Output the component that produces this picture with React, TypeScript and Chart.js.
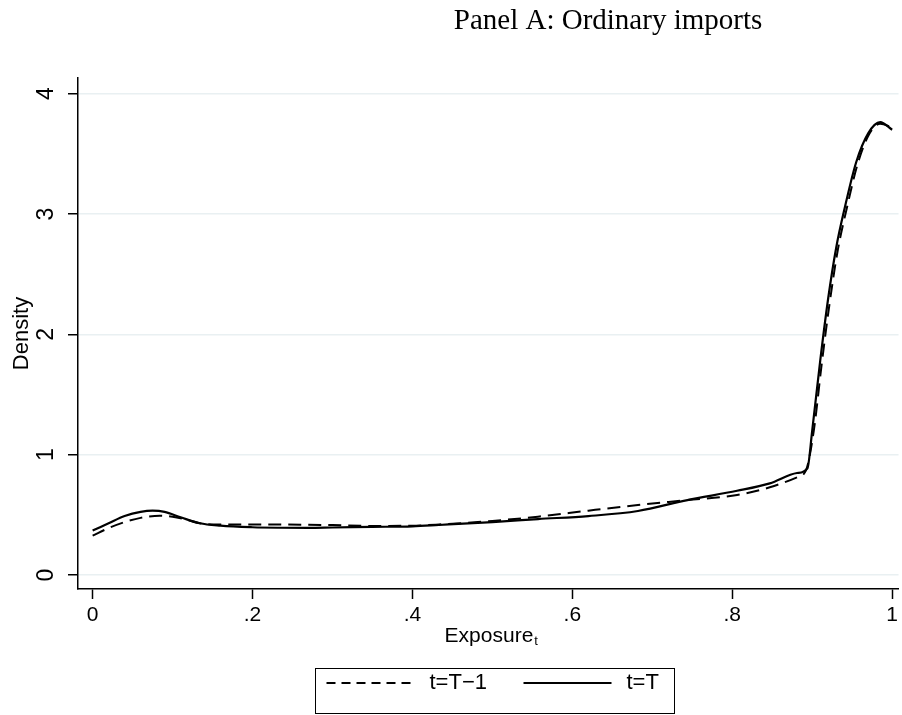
import React, { useEffect, useRef } from 'react';
import { Chart, registerables } from 'chart.js';

Chart.register(...registerables);

const titleText = 'Panel A: Ordinary imports';
const xAxisLabel = 'Exposure';
const xAxisSub = 't';
const yAxisLabel = 'Density';

const xTickValues = [0, 0.2, 0.4, 0.6, 0.8, 1];
const xTickLabels = ['0', '.2', '.4', '.6', '.8', '1'];
const yTickValues = [0, 1, 2, 3, 4];
const yTickLabels = ['0', '1', '2', '3', '4'];

const prevLabel = 't=T\u22121';
const currLabel = 't=T';

// t=T-1 (dashed)
const prevX = [0, 0.02, 0.04, 0.06, 0.084, 0.1, 0.12, 0.134, 0.16, 0.2, 0.233, 0.27, 0.3, 0.35, 0.4, 0.433, 0.5, 0.557, 0.62, 0.682, 0.744, 0.806, 0.847, 0.881, 0.892, 0.902, 0.912, 0.922, 0.932, 0.943, 0.957, 0.971, 0.985, 1.0];
const prevY = [0.327, 0.39, 0.44, 0.475, 0.493, 0.485, 0.455, 0.43, 0.42, 0.42, 0.42, 0.418, 0.415, 0.408, 0.41, 0.42, 0.45, 0.485, 0.535, 0.582, 0.623, 0.665, 0.729, 0.812, 0.867, 1.2, 1.76, 2.27, 2.7, 3.04, 3.42, 3.66, 3.75, 3.72];

// t=T (solid)
const currX = [0, 0.02, 0.04, 0.06, 0.075, 0.09, 0.11, 0.134, 0.16, 0.2, 0.233, 0.27, 0.3, 0.35, 0.4, 0.433, 0.5, 0.557, 0.62, 0.682, 0.744, 0.806, 0.847, 0.881, 0.894, 0.9, 0.91, 0.92, 0.93, 0.941, 0.955, 0.97, 0.985, 1.0];
const currY = [0.37, 0.43, 0.49, 0.525, 0.535, 0.525, 0.48, 0.43, 0.41, 0.397, 0.393, 0.392, 0.395, 0.4, 0.405, 0.416, 0.44, 0.465, 0.49, 0.532, 0.623, 0.7, 0.762, 0.848, 0.887, 1.2, 1.78, 2.3, 2.72, 3.06, 3.43, 3.67, 3.763, 3.7];

const SANS = '"Liberation Sans", Arial, Helvetica, sans-serif';
const SERIF = '"Liberation Serif", "Times New Roman", serif';

const decorPlugin = {
  id: 'decor',
  afterDraw(chart: any) {
    const ctx = chart.ctx as CanvasRenderingContext2D;
    const area = chart.chartArea;
    const yScale = chart.scales.y;
    ctx.save();
    ctx.fillStyle = '#000';

    // Title
    ctx.font = `29px ${SERIF}`;
    ctx.textAlign = 'center';
    ctx.textBaseline = 'alphabetic';
    ctx.fillText(titleText, 608, 29);

    // Y tick labels, rotated
    ctx.font = `23px ${SANS}`;
    yTickValues.forEach((v, i) => {
      const py = yScale.getPixelForValue(v);
      ctx.save();
      ctx.translate(area.left - 31, py);
      ctx.rotate(-Math.PI / 2);
      ctx.textAlign = 'center';
      ctx.textBaseline = 'middle';
      ctx.fillText(yTickLabels[i], 0, 0);
      ctx.restore();
    });

    // Y axis title
    ctx.save();
    ctx.font = `22px ${SANS}`;
    ctx.translate(22, (area.top + area.bottom) / 2);
    ctx.rotate(-Math.PI / 2);
    ctx.textAlign = 'center';
    ctx.textBaseline = 'middle';
    ctx.fillText(yAxisLabel, 0, 0);
    ctx.restore();

    // X axis title with subscript
    ctx.font = `21px ${SANS}`;
    const mainW = ctx.measureText(xAxisLabel).width;
    ctx.font = `13px ${SANS}`;
    const subW = ctx.measureText(xAxisSub).width;
    const cx = (area.left + area.right) / 2 + 3;
    const startX = cx - (mainW + subW + 1) / 2;
    const base = area.bottom + 53;
    ctx.textAlign = 'left';
    ctx.textBaseline = 'alphabetic';
    ctx.font = `21px ${SANS}`;
    ctx.fillText(xAxisLabel, startX, base);
    ctx.font = `13px ${SANS}`;
    ctx.fillText(xAxisSub, startX + mainW + 1, base + 3);

    // Legend
    const boxW = 359;
    const boxH = 45;
    const bx = Math.round(cx - boxW / 2) + 3.5;
    const by = area.bottom + 79.5;
    ctx.strokeStyle = '#000';
    ctx.lineWidth = 1;
    ctx.strokeRect(bx, by, boxW, boxH);
    const ly = by + boxH / 2 - 8;
    const items = [
      { label: prevLabel, dash: [9, 6], x0: 11, x1: 101, tx: 114 },
      { label: currLabel, dash: [], x0: 208, x1: 296, tx: 311 },
    ];
    ctx.font = `22px ${SANS}`;
    items.forEach((it) => {
      ctx.beginPath();
      ctx.setLineDash(it.dash);
      ctx.lineWidth = 2;
      ctx.moveTo(bx + it.x0, ly);
      ctx.lineTo(bx + it.x1, ly);
      ctx.stroke();
      ctx.setLineDash([]);
      ctx.textAlign = 'left';
      ctx.textBaseline = 'middle';
      ctx.fillText(it.label, bx + it.tx, ly);
    });
    ctx.restore();
  },
};

export default function App() {
  const ref = useRef<HTMLCanvasElement | null>(null);
  useEffect(() => {
    document.body.style.margin = '0';
    const canvas = ref.current;
    if (!canvas) return;
    const chart = new Chart(canvas, {
      type: 'line',
      data: {
        datasets: [
          {
            label: prevLabel,
            data: prevX.map((x, i) => ({ x, y: prevY[i] })),
            borderColor: '#000',
            borderWidth: 2,
            borderDash: [13, 7],
            pointRadius: 0,
            fill: false,
            cubicInterpolationMode: 'monotone',
          },
          {
            label: currLabel,
            data: currX.map((x, i) => ({ x, y: currY[i] })),
            borderColor: '#000',
            borderWidth: 2.2,
            pointRadius: 0,
            fill: false,
            cubicInterpolationMode: 'monotone',
          },
        ],
      },
      options: {
        animation: false,
        responsive: false,
        devicePixelRatio: 1,
        layout: { padding: { top: 78, left: 0, right: 0, bottom: 0 } },
        plugins: {
          legend: { display: false },
          title: { display: false },
          tooltip: { enabled: false },
        },
        scales: {
          x: {
            type: 'linear',
            min: -0.0183,
            max: 1.008,
            afterBuildTicks: (scale: any) => {
              scale.ticks = xTickValues.map((v) => ({ value: v }));
            },
            afterFit: (scale: any) => {
              scale.height = 126;
            },
            ticks: {
              autoSkip: false,
              maxRotation: 0,
              minRotation: 0,
              padding: 4,
              color: '#000',
              font: { family: SANS, size: 21 },
              callback: (v: any) => {
                const i = xTickValues.indexOf(Number(v));
                return i >= 0 ? xTickLabels[i] : '';
              },
            },
            grid: {
              display: true,
              drawOnChartArea: false,
              drawTicks: true,
              tickLength: 10,
              tickColor: '#000',
              tickWidth: 1.5,
            },
            border: { display: true, color: '#000', width: 1.5 },
          },
          y: {
            type: 'linear',
            min: -0.116,
            max: 4.13,
            afterBuildTicks: (scale: any) => {
              scale.ticks = yTickValues.map((v) => ({ value: v }));
            },
            afterFit: (scale: any) => {
              scale.width = 78;
            },
            ticks: { display: false },
            grid: {
              display: true,
              drawOnChartArea: true,
              drawTicks: true,
              tickLength: 10,
              color: '#e9f0f2',
              lineWidth: 1.5,
              tickColor: '#000',
              tickWidth: 1.5,
            },
            border: { display: true, color: '#000', width: 1.5 },
          },
        },
      },
      plugins: [decorPlugin],
    });
    return () => chart.destroy();
  }, []);
  return <canvas ref={ref} width={902} height={715} style={{ display: 'block' }} />;
}
